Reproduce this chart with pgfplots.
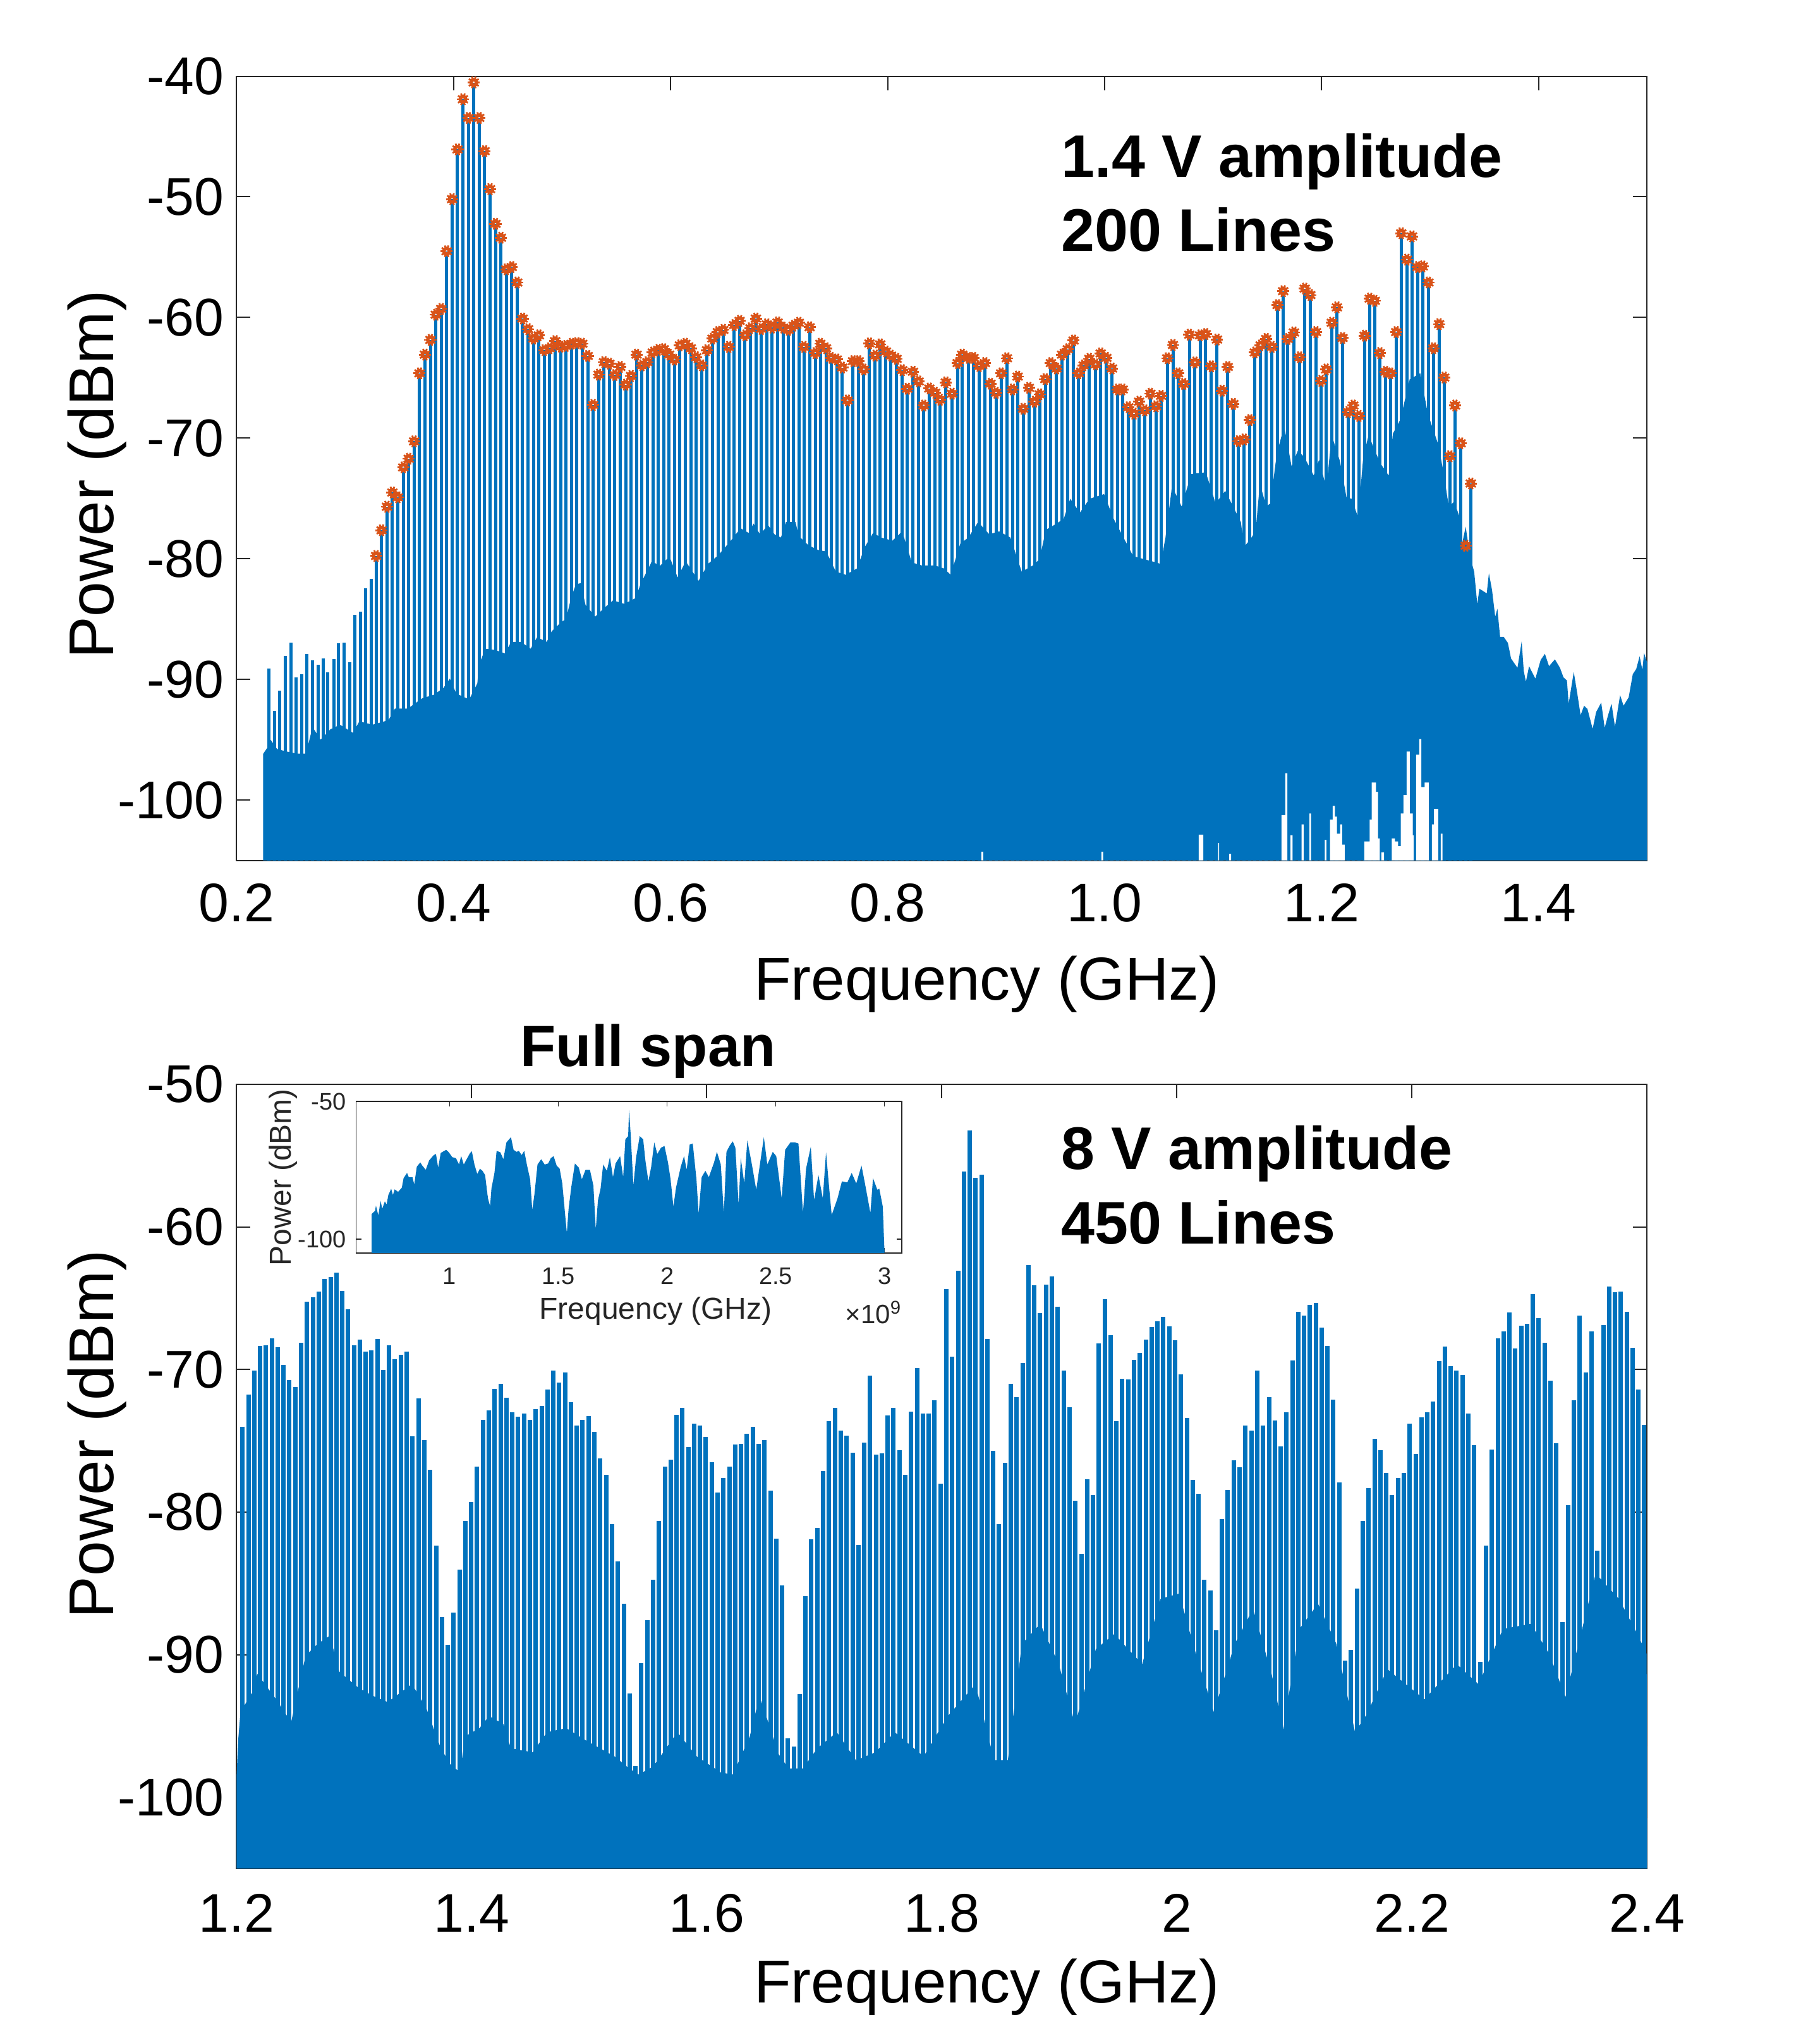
\documentclass[border=0pt]{standalone}
\usepackage{fontspec}
\setmainfont{Liberation Sans}
\usepackage{pgfplots}
\usepackage{pgfplotstable}
\pgfplotsset{compat=1.18}
\definecolor{matblue}{RGB}{0,114,189}
\definecolor{matorange}{RGB}{217,83,25}
\definecolor{axgray}{RGB}{38,38,38}

% marker of the 200 lines: ring with teeth
\pgfdeclareplotmark{gear}{%
  \pgfsetlinewidth{1.35pt}%
  \pgfpathcircle{\pgfpointorigin}{1.12pt}\pgfusepathqstroke
  \pgfsetlinewidth{0.7pt}%
  \foreach \a in {0,36,...,324}{%
    \pgfpathmoveto{\pgfpointpolar{\a}{1.6pt}}%
    \pgfpathlineto{\pgfpointpolar{\a}{2.4pt}}%
    \pgfusepathqstroke}%
}

% ---- 1.4 V panel: low lines below the marked comb
\pgfplotstableread{
x y
0.2300 -89.08
0.2351 -92.61
0.2398 -90.95
0.2449 -88.03
0.2500 -86.97
0.2547 -89.81
0.2598 -89.58
0.2648 -87.88
0.2699 -88.40
0.2749 -88.80
0.2800 -88.24
0.2842 -89.41
0.2898 -88.32
0.2940 -86.98
0.2990 -86.97
0.3041 -88.55
0.3091 -84.64
0.3142 -84.41
0.3189 -82.46
0.3240 -81.66
}\lowlines

% ---- 1.4 V panel: marked lines
\pgfplotstableread{
x y
0.3286 -79.77
0.3336 -77.64
0.3386 -75.69
0.3436 -74.51
0.3486 -74.91
0.3536 -72.43
0.3586 -71.71
0.3636 -70.27
0.3686 -64.63
0.3736 -63.08
0.3786 -61.86
0.3836 -59.77
0.3886 -59.29
0.3936 -54.51
0.3986 -50.19
0.4036 -46.07
0.4086 -41.91
0.4136 -43.46
0.4186 -40.52
0.4236 -43.46
0.4286 -46.21
0.4336 -49.36
0.4386 -52.24
0.4436 -53.39
0.4486 -56.01
0.4536 -55.82
0.4586 -57.10
0.4636 -60.09
0.4686 -60.97
0.4736 -61.75
0.4786 -61.48
0.4836 -62.71
0.4886 -62.55
0.4936 -61.96
0.4986 -62.42
0.5036 -62.36
0.5086 -62.18
0.5136 -62.12
0.5186 -62.18
0.5236 -63.19
0.5286 -67.25
0.5336 -64.74
0.5386 -63.70
0.5436 -63.83
0.5486 -64.77
0.5536 -64.10
0.5586 -65.57
0.5636 -64.85
0.5686 -63.08
0.5736 -63.97
0.5786 -63.70
0.5836 -62.90
0.5886 -62.68
0.5936 -62.63
0.5986 -63.08
0.6036 -63.49
0.6086 -62.31
0.6136 -62.18
0.6186 -62.55
0.6236 -63.30
0.6286 -63.97
0.6336 -62.71
0.6386 -61.75
0.6436 -61.21
0.6486 -61.03
0.6536 -62.44
0.6586 -60.63
0.6636 -60.28
0.6686 -61.48
0.6736 -60.89
0.6786 -60.09
0.6836 -60.95
0.6886 -60.57
0.6936 -60.84
0.6986 -60.41
0.7036 -60.84
0.7086 -61.03
0.7134 -60.68
0.7182 -60.44
0.7229 -62.44
0.7281 -60.81
0.7333 -62.95
0.7380 -62.18
0.7432 -62.55
0.7479 -63.35
0.7531 -63.48
0.7583 -64.15
0.7630 -66.88
0.7682 -63.62
0.7734 -63.62
0.7781 -64.31
0.7833 -62.15
0.7885 -63.16
0.7932 -62.23
0.7984 -62.82
0.8031 -63.16
0.8083 -63.43
0.8135 -64.37
0.8182 -65.91
0.8234 -64.50
0.8286 -65.30
0.8333 -67.30
0.8385 -65.89
0.8438 -66.24
0.8484 -66.82
0.8537 -65.38
0.8594 -66.32
0.8646 -63.78
0.8688 -63.08
0.8745 -63.35
0.8792 -63.35
0.8844 -64.02
0.8896 -63.78
0.8948 -65.49
0.9000 -66.24
0.9047 -64.63
0.9099 -63.38
0.9151 -65.97
0.9198 -64.90
0.9250 -67.57
0.9302 -65.83
0.9354 -66.98
0.9401 -66.37
0.9453 -65.11
0.9505 -63.78
0.9557 -64.23
0.9609 -63.08
0.9661 -62.63
0.9714 -61.91
0.9761 -64.63
0.9807 -63.97
0.9859 -63.43
0.9917 -63.89
0.9964 -62.98
1.0016 -63.35
1.0068 -64.23
1.0120 -65.97
1.0167 -65.97
1.0219 -67.44
1.0271 -67.97
1.0318 -66.98
1.0370 -67.70
1.0422 -66.32
1.0474 -67.36
1.0521 -66.50
1.0578 -63.38
1.0630 -62.28
1.0677 -64.63
1.0729 -65.51
1.0781 -61.43
1.0833 -63.73
1.0880 -61.48
1.0932 -61.37
1.0984 -64.05
1.1036 -61.83
1.1083 -66.07
1.1135 -64.10
1.1187 -67.17
1.1234 -70.24
1.1287 -70.11
1.1339 -68.50
1.1385 -62.90
1.1438 -62.31
1.1490 -61.78
1.1542 -62.44
1.1594 -58.97
1.1646 -57.82
1.1688 -61.78
1.1745 -61.24
1.1797 -63.30
1.1844 -57.61
1.1896 -58.14
1.1948 -61.21
1.1995 -65.25
1.2042 -64.31
1.2094 -60.44
1.2141 -59.16
1.2193 -61.70
1.2245 -67.84
1.2292 -67.30
1.2344 -68.16
1.2396 -61.51
1.2443 -58.44
1.2490 -58.62
1.2537 -62.95
1.2589 -64.50
1.2636 -64.63
1.2688 -61.21
1.2734 -53.02
1.2786 -55.21
1.2833 -53.28
1.2885 -55.82
1.2932 -55.77
1.2984 -57.10
1.3031 -62.55
1.3083 -60.55
1.3130 -64.98
1.3182 -71.50
1.3229 -67.30
1.3281 -70.43
1.3328 -78.92
1.3375 -73.76
}\marked

% ---- 1.4 V panel: top of the noise floor
\pgfplotstableread{
x y
0.2244 -105
0.2244 -96.18
0.2283 -95.67
0.2313 -95.00
0.2372 -95.76
0.2447 -95.95
0.2551 -96.15
0.2640 -96.15
0.2700 -93.95
0.2774 -95.00
0.2864 -94.14
0.2953 -93.76
0.3072 -94.43
0.3132 -93.47
0.3251 -93.76
0.3400 -93.38
0.3459 -92.42
0.3578 -92.42
0.3712 -91.56
0.3817 -91.28
0.3906 -90.71
0.3965 -89.94
0.4025 -91.18
0.4144 -91.66
0.4219 -90.32
0.4233 -88.80
0.4293 -87.46
0.4382 -87.56
0.4472 -87.84
0.4531 -86.89
0.4621 -86.89
0.4710 -87.46
0.4769 -86.51
0.4859 -86.89
0.4903 -86.03
0.4978 -85.36
0.5037 -84.98
0.5082 -83.26
0.5127 -82.12
0.5172 -82.02
0.5216 -83.84
0.5306 -84.79
0.5395 -84.03
0.5469 -83.45
0.5574 -83.74
0.5678 -83.26
0.5722 -82.12
0.5827 -80.21
0.5901 -80.59
0.5990 -79.83
0.6065 -81.55
0.6139 -80.21
0.6258 -81.83
0.6348 -80.40
0.6437 -79.73
0.6556 -78.49
0.6645 -77.47
0.6719 -77.86
0.6764 -77.08
0.6824 -77.98
0.6898 -77.21
0.6958 -77.98
0.7017 -78.24
0.7062 -76.96
0.7151 -76.96
0.7181 -78.11
0.7270 -78.88
0.7360 -79.27
0.7434 -79.40
0.7523 -81.07
0.7613 -81.33
0.7717 -80.81
0.7791 -79.01
0.7866 -77.86
0.7940 -78.24
0.8045 -78.50
0.8134 -77.73
0.8223 -80.30
0.8313 -80.55
0.8432 -80.55
0.8521 -80.81
0.8581 -81.33
0.8670 -78.75
0.8744 -78.24
0.8834 -76.96
0.8938 -77.98
0.9027 -77.73
0.9132 -78.24
0.9236 -81.07
0.9340 -80.55
0.9400 -80.04
0.9459 -77.60
0.9534 -77.21
0.9623 -76.70
0.9683 -75.03
0.9772 -76.18
0.9861 -75.03
0.9995 -74.64
1.0084 -76.70
1.0159 -77.98
1.0263 -79.78
1.0367 -80.04
1.0472 -80.30
1.0516 -80.43
1.0561 -78.24
1.0621 -74.00
1.0710 -75.67
1.0799 -72.97
1.0933 -72.84
1.1023 -75.41
1.1112 -74.38
1.1256 -76.96
1.1285 -79.01
1.1334 -78.50
1.1392 -77.73
1.1431 -73.74
1.1489 -75.67
1.1528 -75.41
1.1587 -71.30
1.1655 -68.99
1.1723 -72.33
1.1781 -71.04
1.1840 -71.56
1.1927 -73.10
1.1976 -71.81
1.2044 -74.13
1.2093 -69.76
1.2170 -71.94
1.2229 -74.90
1.2277 -75.03
1.2336 -76.57
1.2384 -71.56
1.2433 -69.76
1.2540 -72.07
1.2618 -73.10
1.2657 -69.63
1.2725 -68.47
1.2812 -65.13
1.2910 -64.62
1.2978 -67.96
1.3075 -70.53
1.3124 -72.84
1.3172 -75.67
1.3221 -75.28
1.3279 -76.70
1.3289 -79.01
1.3328 -77.34
1.3367 -79.78
1.3406 -81.07
1.3435 -83.77
1.3454 -82.48
1.3522 -82.87
1.3542 -81.20
1.3571 -82.61
1.3600 -84.80
1.3620 -84.15
1.3645 -86.47
1.3678 -86.47
1.3717 -86.98
1.3746 -88.27
1.3805 -89.04
1.3844 -86.85
1.3863 -89.29
1.3883 -90.19
1.3912 -88.91
1.3970 -89.94
1.4019 -88.39
1.4058 -87.88
1.4096 -88.91
1.4150 -88.34
1.4197 -89.04
1.4229 -89.83
1.4261 -90.09
1.4277 -92.01
1.4324 -89.39
1.4356 -91.14
1.4387 -92.97
1.4419 -92.18
1.4450 -92.45
1.4498 -94.10
1.4530 -92.71
1.4577 -91.92
1.4609 -94.02
1.4640 -92.97
1.4672 -92.01
1.4704 -93.93
1.4751 -91.31
1.4783 -92.18
1.4830 -91.49
1.4868 -89.57
1.4900 -89.13
1.4931 -88.08
1.4956 -89.22
1.4972 -87.82
1.5004 -88.69
1.5004 -105
}\floorA

% ---- 1.4 V panel: gaps at the very bottom of the floor
\pgfplotstableread{
x y
0.8864 -105
0.8864 -104.28
0.8882 -105
0.9971 -105
0.9971 -104.28
0.9986 -105
1.0868 -105
1.0868 -102.87
1.0909 -105
1.1046 -105
1.1046 -103.56
1.1055 -105
1.1148 -105
1.1148 -104.46
1.1166 -105
1.1630 -105
1.1630 -101.25
1.1665 -97.78
1.1684 -105
1.1713 -102.92
1.1733 -105
1.1816 -102.02
1.1834 -105
1.1888 -101.12
1.1902 -105
1.2030 -103.30
1.2044 -105
1.2077 -101.63
1.2102 -100.48
1.2122 -101.38
1.2141 -102.79
1.2170 -102.02
1.2190 -103.69
1.2213 -105
1.2394 -103.43
1.2443 -101.63
1.2462 -98.55
1.2501 -99.32
1.2520 -103.18
1.2536 -105
1.2550 -104.33
1.2575 -105
1.2647 -103.18
1.2676 -103.43
1.2705 -103.82
1.2729 -101.12
1.2754 -99.58
1.2783 -95.98
1.2812 -101.12
1.2841 -102.92
1.2847 -105
1.2871 -96.24
1.2900 -94.95
1.2919 -98.93
1.2949 -98.55
1.2987 -105
1.3017 -102.02
1.3036 -100.73
1.3075 -105
1.3098 -102.79
1.3114 -105
}\gapsA

% ---- 8 V panel: comb lines
\pgfplotstableread{
x y
1.2050 -74.00
1.2100 -71.75
1.2150 -70.06
1.2200 -68.36
1.2250 -68.31
1.2300 -67.83
1.2349 -68.45
1.2399 -69.69
1.2449 -70.73
1.2499 -71.24
1.2549 -68.11
1.2599 -65.26
1.2649 -64.92
1.2699 -64.53
1.2749 -63.65
1.2799 -63.54
1.2848 -63.20
1.2898 -64.50
1.2948 -65.80
1.2998 -68.31
1.3048 -67.91
1.3098 -68.73
1.3148 -68.65
1.3198 -67.88
1.3248 -70.03
1.3298 -68.31
1.3347 -69.29
1.3397 -68.96
1.3447 -68.73
1.3497 -74.68
1.3547 -72.03
1.3597 -74.96
1.3647 -77.05
1.3697 -82.36
1.3747 -87.35
1.3797 -89.29
1.3846 -87.07
1.3896 -84.05
1.3946 -80.61
1.3996 -79.31
1.4046 -76.80
1.4096 -73.55
1.4146 -72.88
1.4196 -71.35
1.4246 -71.01
1.4296 -71.97
1.4345 -72.99
1.4395 -73.33
1.4445 -73.10
1.4495 -73.53
1.4545 -72.76
1.4595 -72.57
1.4645 -71.41
1.4695 -70.06
1.4745 -70.93
1.4795 -70.23
1.4844 -72.29
1.4894 -73.95
1.4944 -73.55
1.4994 -73.27
1.5044 -74.37
1.5094 -76.23
1.5144 -77.39
1.5194 -80.83
1.5244 -83.46
1.5294 -86.42
1.5343 -92.71
1.5393 -97.84
1.5443 -90.59
1.5493 -87.57
1.5543 -84.75
1.5593 -80.61
1.5643 -76.83
1.5693 -76.32
1.5743 -73.19
1.5793 -72.68
1.5842 -75.42
1.5892 -73.81
1.5942 -73.92
1.5992 -74.74
1.6042 -76.52
1.6092 -78.63
1.6142 -77.62
1.6192 -76.83
1.6242 -75.28
1.6292 -75.22
1.6341 -74.51
1.6391 -74.03
1.6441 -75.22
1.6491 -74.96
1.6541 -78.52
1.6591 -81.85
1.6641 -85.15
1.6691 -95.87
1.6741 -96.43
1.6791 -92.76
1.6840 -85.88
1.6890 -81.90
1.6940 -81.11
1.6990 -77.14
1.7040 -73.61
1.7090 -72.68
1.7140 -74.29
1.7190 -74.65
1.7240 -75.84
1.7290 -82.33
1.7339 -75.13
1.7389 -70.45
1.7439 -75.98
1.7489 -75.87
1.7539 -73.22
1.7589 -72.68
1.7639 -75.67
1.7689 -77.39
1.7739 -72.96
1.7789 -69.92
1.7838 -73.07
1.7888 -73.07
1.7938 -72.14
1.7988 -78.01
1.8038 -64.36
1.8088 -69.10
1.8138 -63.09
1.8188 -56.11
1.8238 -53.22
1.8288 -56.57
1.8337 -56.36
1.8387 -67.84
1.8437 -75.69
1.8487 -80.85
1.8537 -76.54
1.8587 -70.99
1.8637 -71.94
1.8687 -69.54
1.8737 -62.69
1.8787 -64.10
1.8836 -66.04
1.8886 -64.03
1.8936 -63.46
1.8986 -65.58
1.9036 -70.07
1.9086 -72.65
1.9136 -79.22
1.9186 -82.93
1.9236 -77.70
1.9286 -78.80
1.9335 -68.16
1.9385 -65.05
1.9435 -67.60
1.9485 -73.64
1.9535 -70.64
1.9585 -70.71
1.9635 -69.33
1.9685 -68.83
1.9735 -67.92
1.9785 -67.00
1.9834 -66.64
1.9884 -66.29
1.9934 -66.96
1.9984 -67.95
2.0034 -70.35
2.0084 -73.39
2.0134 -77.74
2.0184 -78.73
2.0234 -84.73
2.0284 -85.48
2.0333 -88.30
2.0383 -80.49
2.0433 -78.45
2.0483 -76.36
2.0533 -76.86
2.0583 -73.92
2.0633 -74.31
2.0683 -70.07
2.0733 -73.92
2.0783 -71.94
2.0832 -73.60
2.0882 -75.41
2.0932 -73.00
2.0982 -69.36
2.1032 -65.97
2.1082 -66.22
2.1132 -65.48
2.1182 -65.34
2.1232 -67.07
2.1282 -68.34
2.1331 -72.12
2.1381 -77.92
2.1431 -90.42
2.1481 -89.68
2.1531 -85.37
2.1581 -80.64
2.1631 -78.34
2.1681 -74.88
2.1731 -75.65
2.1781 -77.24
2.1830 -78.83
2.1880 -77.60
2.1930 -77.24
2.1980 -73.78
2.2030 -75.94
2.2080 -73.36
2.2130 -73.00
2.2180 -72.23
2.2230 -69.40
2.2280 -68.41
2.2329 -69.75
2.2379 -70.07
2.2429 -70.39
2.2479 -73.11
2.2529 -75.30
2.2579 -90.49
2.2629 -82.37
2.2679 -75.62
2.2729 -67.81
2.2779 -67.31
2.2828 -66.01
2.2878 -68.52
2.2928 -66.93
2.2978 -66.82
2.3028 -64.73
2.3078 -66.40
2.3128 -68.13
2.3178 -70.78
2.3228 -75.16
2.3278 -87.70
2.3327 -79.51
2.3377 -72.16
2.3427 -66.22
2.3477 -70.21
2.3527 -67.35
2.3577 -82.72
2.3627 -66.89
2.3677 -64.20
2.3727 -64.59
2.3777 -64.56
2.3826 -65.94
2.3876 -68.48
2.3926 -71.41
2.3976 -73.89
}\linesB

% ---- 8 V panel: top of the noise floor
\pgfplotstableread{
x y
1.2000 -105
1.2000 -98.50
1.2012 -96.15
1.2033 -94.03
1.2135 -92.62
1.2176 -91.35
1.2341 -93.19
1.2464 -94.74
1.2587 -90.08
1.2690 -89.24
1.2793 -88.67
1.2875 -91.21
1.3039 -92.34
1.3162 -92.90
1.3286 -93.33
1.3491 -92.06
1.3614 -93.75
1.3737 -96.57
1.3820 -97.70
1.3902 -98.27
1.3943 -95.73
1.4066 -95.16
1.4148 -94.31
1.4271 -94.88
1.4333 -96.57
1.4518 -96.85
1.4641 -95.44
1.4805 -95.16
1.4970 -96.01
1.5216 -97.14
1.5339 -97.98
1.5422 -98.41
1.5545 -97.84
1.5750 -95.44
1.5915 -97.14
1.6120 -98.27
1.6223 -98.41
1.6366 -95.73
1.6449 -92.90
1.6613 -97.00
1.6695 -97.98
1.6818 -97.98
1.6941 -96.57
1.7106 -95.44
1.7270 -97.42
1.7434 -96.85
1.7599 -95.44
1.7845 -97.14
1.8051 -94.31
1.8286 -92.08
1.8444 -97.39
1.8562 -97.39
1.8680 -89.26
1.8837 -87.84
1.8995 -90.67
1.9133 -94.91
1.9310 -89.61
1.9467 -88.55
1.9704 -90.67
1.9861 -86.08
2.0019 -85.72
2.0137 -89.26
2.0314 -94.03
2.0491 -89.26
2.0648 -86.78
2.0806 -91.38
2.0904 -95.27
2.1042 -88.20
2.1200 -86.43
2.1357 -89.26
2.1515 -95.44
2.1613 -94.21
2.1790 -91.02
2.2105 -93.14
2.2381 -90.67
2.2566 -92.08
2.2774 -88.20
2.3011 -87.84
2.3168 -89.96
2.3306 -92.97
2.3562 -84.31
2.3759 -86.08
2.3917 -88.55
2.3996 -89.96
2.4000 -105
}\floorB

% ---- inset, full span
\pgfplotstableread{
x y
0.641 -105
0.641 -90.84
0.657 -89.69
0.661 -87.79
0.672 -91.37
0.682 -86.03
0.690 -88.93
0.702 -86.26
0.710 -87.40
0.718 -83.97
0.731 -81.68
0.739 -83.97
0.747 -81.91
0.763 -82.82
0.780 -81.30
0.788 -77.86
0.804 -75.95
0.812 -77.48
0.829 -77.48
0.837 -80.15
0.849 -73.66
0.865 -72.14
0.874 -73.28
0.890 -74.81
0.906 -71.37
0.927 -69.47
0.937 -69.08
0.947 -74.05
0.959 -68.70
0.984 -67.56
0.996 -68.47
1.012 -70.23
1.029 -70.61
1.043 -72.90
1.053 -69.85
1.065 -72.90
1.078 -70.99
1.094 -68.70
1.102 -68.09
1.114 -72.90
1.127 -76.34
1.139 -74.43
1.151 -75.19
1.163 -76.72
1.176 -85.11
1.186 -88.02
1.192 -81.68
1.206 -75.95
1.216 -67.94
1.233 -68.47
1.247 -70.99
1.261 -64.89
1.282 -62.98
1.294 -67.56
1.308 -68.32
1.318 -67.94
1.331 -69.47
1.343 -67.94
1.355 -72.90
1.370 -78.24
1.380 -89.31
1.390 -83.59
1.404 -72.90
1.421 -70.99
1.437 -72.90
1.453 -72.52
1.465 -70.61
1.478 -69.85
1.492 -73.28
1.506 -74.43
1.518 -79.77
1.533 -92.75
1.539 -97.71
1.547 -88.93
1.559 -81.30
1.576 -72.52
1.594 -74.05
1.608 -78.24
1.625 -74.81
1.645 -74.81
1.661 -80.53
1.672 -96.41
1.682 -85.88
1.694 -81.68
1.706 -72.90
1.723 -75.19
1.737 -70.23
1.751 -77.48
1.763 -72.52
1.784 -69.85
1.798 -77.48
1.808 -63.74
1.821 -62.60
1.825 -53.05
1.833 -62.60
1.845 -80.53
1.857 -70.61
1.874 -62.60
1.890 -63.74
1.900 -71.37
1.914 -79.01
1.927 -73.66
1.941 -64.89
1.955 -69.08
1.972 -66.79
1.988 -66.18
2.004 -72.14
2.016 -78.24
2.029 -88.17
2.041 -81.30
2.063 -73.66
2.078 -69.85
2.090 -74.81
2.104 -65.65
2.118 -65.27
2.135 -78.24
2.145 -90.84
2.159 -77.48
2.176 -75.19
2.192 -77.48
2.216 -72.14
2.229 -68.32
2.247 -72.90
2.261 -90.46
2.273 -68.32
2.288 -66.03
2.302 -64.50
2.314 -66.79
2.329 -87.40
2.339 -70.61
2.355 -79.77
2.369 -64.12
2.390 -72.90
2.410 -82.06
2.431 -70.61
2.445 -62.98
2.461 -72.90
2.486 -68.32
2.502 -69.85
2.527 -85.11
2.543 -67.56
2.567 -64.89
2.588 -64.89
2.604 -65.27
2.625 -90.46
2.639 -74.43
2.661 -66.41
2.676 -85.88
2.696 -76.72
2.716 -85.11
2.731 -68.47
2.747 -82.82
2.757 -91.22
2.784 -85.11
2.804 -79.01
2.829 -79.39
2.849 -75.95
2.870 -79.77
2.894 -73.28
2.910 -79.77
2.935 -90.46
2.947 -77.86
2.967 -82.06
2.976 -81.68
2.992 -88.17
3.000 -105
}\fullspan

\pgfplotsset{
  specaxis/.style={
    scale only axis, anchor=south west,
    axis line style={axgray, line width=0.5pt},
    tick style={axgray, line width=0.5pt},
    tick align=inside, major tick length=5.5pt,
    xticklabel style={font=\fontsize{21.5}{24}\selectfont, black, anchor=base, yshift=-24.25pt},
    yticklabel style={font=\fontsize{21}{24}\selectfont, black, anchor=east, xshift=-1.5pt},
    every axis x label/.style={at={(rel axis cs:0.5,0)}, anchor=base, xshift=17.75pt, yshift=-55.25pt, font=\fontsize{24}{28}\selectfont, black},
  },
  % vertical lines from each value down to the bottom of the axis
  comb/.style={draw=none, mark=none, forget plot,
    error bars/.cd, y dir=minus, y fixed=70, error mark=none,
    error bar style={matblue, line width=#1}},
}

\begin{document}
\begin{tikzpicture}
\useasboundingbox (0pt,0pt) rectangle (720pt,798pt);

% 1.4 V amplitude
\begin{axis}[specaxis,
  at={(93.6pt,457.6pt)}, width=558pt, height=310.25pt,
  xmin=0.2, xmax=1.5, ymin=-105, ymax=-40,
  xtick={0.2,0.4,0.6,0.8,1.0,1.2,1.4},
  xticklabels={0.2,0.4,0.6,0.8,1.0,1.2,1.4},
  ytick={-100,-90,-80,-70,-60,-50,-40},
  yticklabels={-100,-90,-80,-70,-60,-50,-40},
  xlabel={Frequency (GHz)}, ylabel={Power (dBm)},
  every axis y label/.style={at={(rel axis cs:0,0.5)}, anchor=base, xshift=-48.75pt, yshift=-2.5pt, rotate=90, font=\fontsize{25}{28}\selectfont, black},
]
\addplot[sharp plot, fill=matblue, draw=none, forget plot] table {\floorA};
\addplot[comb=1.25pt] table {\lowlines};
\addplot[comb=1.25pt] table {\marked};
\addplot[const plot, fill=white, draw=none, forget plot] table {\gapsA};
\addplot[only marks, mark=gear, matorange, forget plot] table {\marked};
\end{axis}

% 8 V amplitude
\begin{axis}[specaxis,
  at={(93.6pt,58.75pt)}, width=558pt, height=310.25pt,
  xmin=1.2, xmax=2.4, ymin=-105, ymax=-50,
  xtick={1.2,1.4,1.6,1.8,2,2.2,2.4},
  xticklabels={1.2,1.4,1.6,1.8,2,2.2,2.4},
  ytick={-100,-90,-80,-70,-60,-50},
  yticklabels={-100,-90,-80,-70,-60,-50},
  xlabel={Frequency (GHz)}, ylabel={Power (dBm)},
  xticklabel style={yshift=-1pt},
  xlabel style={yshift=2pt},
  every axis y label/.style={at={(rel axis cs:0,0.5)}, anchor=base, xshift=-48.75pt, yshift=16.75pt, rotate=90, font=\fontsize{25}{28}\selectfont, black},
]
\addplot[sharp plot, fill=matblue, draw=none, forget plot] table {\floorB};
\addplot[comb=1.75pt] table {\linesB};
\end{axis}

% inset
\begin{axis}[
  scale only axis, anchor=south west,
  at={(140.9pt,302.25pt)}, width=215.9pt, height=60pt,
  axis background/.style={fill=white},
  axis line style={axgray, line width=0.4pt},
  tick style={axgray, line width=0.4pt},
  tick align=inside, major tick length=2pt,
  xmin=0.57, xmax=3.08, ymin=-105, ymax=-50,
  xtick={1,1.5,2,2.5,3}, xticklabels={1,1.5,2,2.5,3},
  ytick={-100,-50}, yticklabels={-100,-50},
  xticklabel style={font=\fontsize{9.5}{11}\selectfont, text=axgray, anchor=base, yshift=-12.5pt},
  yticklabel style={font=\fontsize{9.5}{11}\selectfont, text=axgray, anchor=east, xshift=-0.5pt},
  xlabel={Frequency (GHz)}, ylabel={Power (dBm)},
  every axis x label/.style={at={(rel axis cs:0.5,0)}, anchor=base, xshift=10.5pt, yshift=-26.25pt, font=\fontsize{12}{14}\selectfont, text=axgray},
  every axis y label/.style={at={(rel axis cs:0,0.5)}, anchor=base, xshift=-25.9pt, rotate=90, font=\fontsize{12}{14}\selectfont, text=axgray},
]
\addplot[sharp plot, fill=matblue, draw=none, forget plot] table {\fullspan};
\end{axis}

\node[anchor=base east, inner sep=0pt, font=\fontsize{10.5}{12}\selectfont, text=axgray] at (357pt,274.25pt) {×10\textsuperscript{9}};
\node[anchor=base west, inner sep=0pt, font=\fontsize{23.8}{28}\bfseries] at (419.7pt,727.75pt) {1.4 V amplitude};
\node[anchor=base west, inner sep=0pt, font=\fontsize{23.8}{28}\bfseries] at (419.7pt,698.6pt) {200 Lines};
\node[anchor=base west, inner sep=0pt, font=\fontsize{23.8}{28}\bfseries] at (419.7pt,335.25pt) {8 V amplitude};
\node[anchor=base west, inner sep=0pt, font=\fontsize{23.8}{28}\bfseries] at (419.7pt,305.75pt) {450 Lines};
\node[anchor=base west, inner sep=0pt, font=\fontsize{23}{28}\bfseries] at (205.7pt,376pt) {Full span};
\end{tikzpicture}
\end{document}
